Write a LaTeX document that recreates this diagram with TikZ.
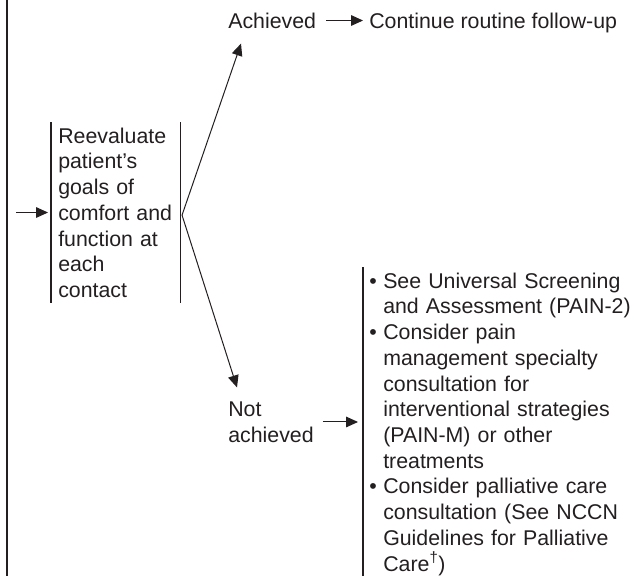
\documentclass[tikz,border=0pt]{standalone}
\usepackage{fontspec}
\setmainfont{Liberation Sans}
\usetikzlibrary{arrows.meta,calc}
\definecolor{ink}{HTML}{231F20}
% bullet and continuation indent for the plan list
\newcommand\bul{\makebox[10.5pt][l]{\textbullet}}
\newcommand\cnt{\hspace*{10.5pt}}
\begin{document}
\begin{tikzpicture}[x=0.75pt,y=-0.75pt,
  txt/.style={font=\fontsize{16pt}{19.3pt}\selectfont, text=ink},
  label/.style={txt, inner sep=0pt, align=left},
  stepbox/.style={txt, align=left, inner xsep=5.25pt, inner ysep=4pt},
  bar/.style={draw=ink, line width=0.8pt},
  edge/.style={draw=ink, line width=1.1pt},
  arr/.style={draw=ink, line width=0.75pt, -{Triangle[length=9pt,width=8pt]}}]
\useasboundingbox (0,0) rectangle (641,576);

% outer frame edge and page bottom
\coordinate (edgetop) at (7,0);
\coordinate (edgebot) at (7,576);
\coordinate (bot) at (0,576);
\draw[edge] (edgetop) -- (edgebot);

% main step
\node[stepbox, anchor=north west, text width=86.25pt] (reeval) at (51,122)
  {Reevaluate\\patient’s\\goals of\\comfort and\\function at\\each\\contact};
\draw[bar] (reeval.north west) -- (reeval.south west);
\draw[bar] (reeval.north east) -- (reeval.south east);

% incoming arrow
\coordinate (feed) at (16,212.5);
\draw[arr, shorten >=2.25pt] (feed) -- (feed -| reeval.west);

% outcomes
\node[label, anchor=west] (ach) at (228,20.5) {Achieved};
\node[label, anchor=base west] (cont) at (369,28.1) {Continue routine follow-up};
\draw[arr, shorten <=7.5pt, shorten >=4.5pt] (ach.east) -- (ach.east -| cont.west);

\node[label, anchor=north west] (nach) at (228,401.4) {Not\\achieved};

% plan for the not-achieved branch
\node[txt, align=left, anchor=north west, text width=200pt,
      inner xsep=4.5pt, inner ysep=4pt] (plan) at (363,267)
  {\bul See Universal Screening\\
   \cnt and Assessment (PAIN-2)\\
   \bul Consider pain\\
   \cnt management specialty\\
   \cnt consultation for\\
   \cnt interventional strategies\\
   \cnt (PAIN-M) or other\\
   \cnt treatments\\
   \bul Consider palliative care\\
   \cnt consultation (See NCCN\\
   \cnt Guidelines for Palliative\\
   \cnt Care\textsuperscript{†})};
\draw[bar] (plan.north west) -- (plan.north west |- bot);
\draw[arr, shorten <=6.75pt, shorten >=3.75pt] (nach.east) -- (nach.east -| plan.west);

% branching arrows
\coordinate (fork) at ($(reeval.east)+(1.5,2.5)$);
\draw[arr] (fork) -- ($(ach.south west)+(13,15)$);
\draw[arr] (fork) -- ($(nach.north west)+(9,-14)$);
\end{tikzpicture}
\end{document}
